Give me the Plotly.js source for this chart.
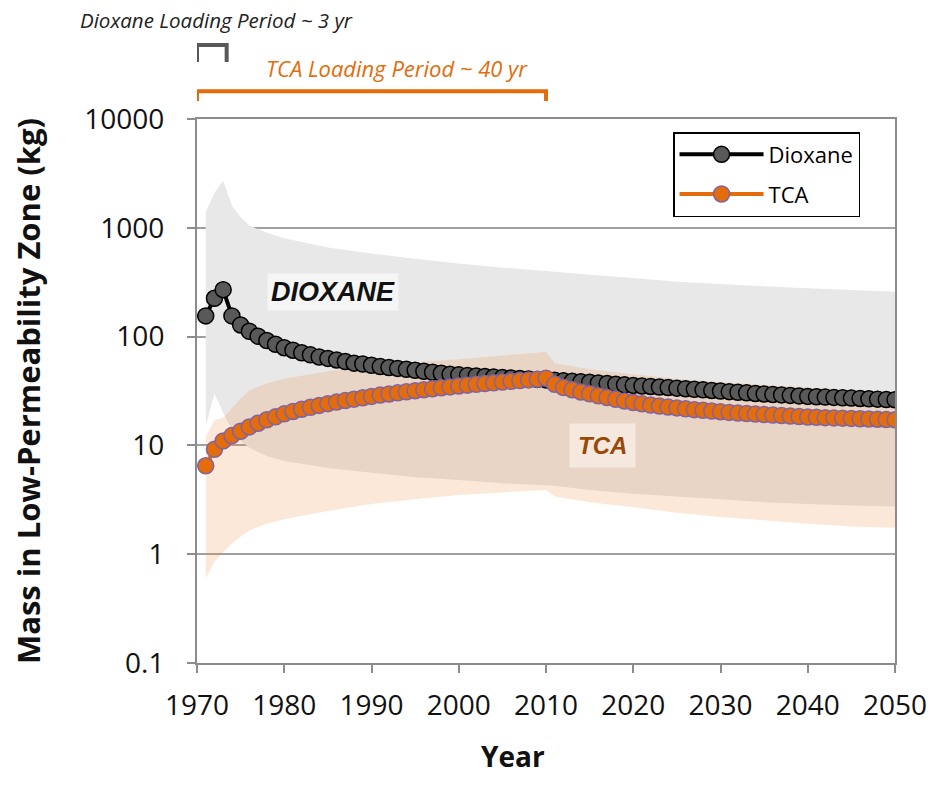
<!DOCTYPE html>
<html>
<head>
<meta charset="utf-8">
<script src="https://cdn.plot.ly/plotly-3.0.1.min.js"></script>
<style>html,body{margin:0;padding:0;background:#fff;}#chart{width:932px;height:792px;}</style>
</head>
<body>
<div id="chart"></div>
<script>
// ---- data ----
const years = [];
for (let y = 1971; y <= 2050; y++) years.push(y);

const dioxane = [
  155, 225, 270, 155, 128, 112, 101, 92, 85, 79,
  75, 71, 68, 65, 63, 61, 59, 57, 56, 54.5,
  53, 52, 51, 50, 49, 48, 47, 46, 45, 44.5,
  44, 43.5, 43, 42.5, 42, 41.6, 41.2, 40.8, 40.4, 40,
  39.6, 39.2, 38.8, 38.4, 38, 37.5, 37, 36.5, 36, 35.6,
  35.2, 34.8, 34.4, 34, 33.6, 33.2, 32.8, 32.4, 32, 31.6,
  31.2, 30.8, 30.4, 30, 29.7, 29.4, 29.1, 28.8, 28.5, 28.2,
  28, 27.8, 27.6, 27.4, 27.2, 27, 26.8, 26.6, 26.4, 26.3
];

const tca = [
  6.5, 9.2, 11, 12.3, 13.5, 14.8, 16, 17.2, 18.3, 19.5,
  20.5, 21.5, 22.4, 23.3, 24.2, 25, 25.8, 26.6, 27.4, 28.2,
  29, 29.7, 30.4, 31.1, 31.8, 32.5, 33.2, 33.9, 34.5, 35.2,
  35.8, 36.4, 37, 37.6, 38.2, 38.8, 39.4, 40, 40.6, 41.5,
  36.5, 34, 32.5, 31, 29.8, 28.6, 27.5, 26.5, 25.6, 24.8,
  24.1, 23.5, 23, 22.5, 22.1, 21.7, 21.3, 21, 20.7, 20.4,
  20.1, 19.8, 19.6, 19.4, 19.2, 19, 18.8, 18.6, 18.4, 18.2,
  18.1, 18, 17.9, 17.8, 17.7, 17.6, 17.5, 17.4, 17.3, 17.2
];

// uncertainty bands (vertices)
const bandYears = [1971, 1972, 1973, 1974, 1975, 1976, 1978, 1980, 1985, 1990, 1995, 2000, 2005, 2010, 2011, 2015, 2020, 2025, 2030, 2035, 2040, 2045, 2050];
const dioxaneUpper = [1400, 2100, 2700, 1600, 1250, 1050, 900, 800, 660, 580, 520, 470, 430, 400, 395, 370, 345, 320, 305, 290, 278, 268, 258];
const dioxaneLower = [15, 30, 20, 14, 11, 9.5, 8, 7.2, 6.2, 5.6, 5.1, 4.8, 4.5, 4.3, 4.25, 3.9, 3.6, 3.4, 3.2, 3.0, 2.9, 2.8, 2.75];
const tcaUpper = [12, 17, 18, 22, 27, 32, 37, 41, 48, 54, 58, 62, 67, 72, 57, 50, 45, 41, 38, 36, 34, 32, 30];
const tcaLower = [0.6, 0.85, 1.05, 1.25, 1.45, 1.65, 1.9, 2.1, 2.5, 2.9, 3.2, 3.5, 3.7, 3.9, 3.4, 3.0, 2.7, 2.4, 2.2, 2.05, 1.9, 1.8, 1.75];

const xTicks = [1970, 1980, 1990, 2000, 2010, 2020, 2030, 2040, 2050];
const yTickVals = [0.1, 1, 10, 100, 1000, 10000];
const yTickText = ['0.1', '1', '10', '100', '1000', '10000'];

// ---- traces ----
function band(upper, lower) {
  return {
    x: bandYears.concat(bandYears.slice().reverse()),
    y: upper.concat(lower.slice().reverse())
  };
}
const gBand = band(dioxaneUpper, dioxaneLower);
const oBand = band(tcaUpper, tcaLower);

const traces = [
  {x: gBand.x, y: gBand.y, type: 'scatter', mode: 'none', fill: 'toself',
   fillcolor: 'rgb(232,232,232)', showlegend: false, hoverinfo: 'skip'},
  {x: oBand.x, y: oBand.y, type: 'scatter', mode: 'none', fill: 'toself',
   fillcolor: 'rgba(240,140,60,0.2)', showlegend: false, hoverinfo: 'skip'},
  {x: years, y: dioxane, type: 'scatter', mode: 'lines+markers', name: 'Dioxane',
   legendgroup: 'a',
   line: {color: '#000000', width: 4},
   marker: {size: 16, color: '#595959', line: {color: '#000000', width: 1.5}}},
  {x: years, y: tca, type: 'scatter', mode: 'lines+markers', name: 'TCA',
   legendgroup: 'b',
   line: {color: '#E46C0A', width: 4},
   marker: {size: 16, color: '#E46C0A', line: {color: '#8064A2', width: 1.5}}}
];

const axisGray = '#8c8c8c';
const layout = {
  width: 932, height: 792,
  margin: {l: 197, r: 37, t: 119, b: 129},
  paper_bgcolor: '#ffffff', plot_bgcolor: '#ffffff',
  font: {family: 'Open Sans, sans-serif', color: '#000000'},
  showlegend: true,
  legend: {
    x: 0.682, y: 0.976, xanchor: 'left', yanchor: 'top',
    bgcolor: '#ffffff', bordercolor: '#000000', borderwidth: 1.5,
    font: {size: 22, color: '#000000'}, tracegroupgap: 8,
    itemwidth: 84
  },
  xaxis: {
    range: [1970, 2050], tickvals: xTicks, ticks: 'outside', ticklen: 8,
    tickwidth: 2, tickcolor: axisGray, showgrid: false, zeroline: false,
    showline: true, linecolor: axisGray, linewidth: 2, mirror: true,
    tickfont: {size: 28, color: '#111111'}, ticklabelstandoff: 8
  },
  yaxis: {
    type: 'log', range: [-1, 4], tickvals: yTickVals, ticktext: yTickText,
    ticks: 'outside', ticklen: 8, tickwidth: 2, tickcolor: axisGray,
    showgrid: true, gridcolor: '#a0a0a0', gridwidth: 2, zeroline: false,
    showline: true, linecolor: axisGray, linewidth: 2, mirror: true,
    tickfont: {size: 28, color: '#111111'}, ticklabelstandoff: 17,
    title: {text: 'Mass in Low-Permeability Zone (kg)', font: {size: 31, color: '#111111', weight: 'bold'}, standoff: 34}
  },
  shapes: [
    {type: 'path', xref: 'x', yref: 'paper',
     path: 'M 1970.0,1.105 L 1970.0,1.136 L 1973.4,1.136 L 1973.4,1.105',
     line: {color: '#595959', width: 4}},
    {type: 'path', xref: 'x', yref: 'paper',
     path: 'M 1970.0,1.033 L 1970.0,1.051 L 2010.0,1.051 L 2010.0,1.033',
     line: {color: '#E46C0A', width: 4}}
  ],
  annotations: [
    {text: 'Year', xref: 'paper', yref: 'paper', x: 0.453, y: -0.171,
     xanchor: 'center', yanchor: 'middle', showarrow: false,
     font: {size: 28, color: '#111111', weight: 'bold'}},
    {text: 'Dioxane Loading Period ~ 3 yr', xref: 'paper', yref: 'paper',
     x: -0.171, y: 1.182, xanchor: 'left', yanchor: 'middle', showarrow: false,
     font: {size: 20.5, color: '#222222', style: 'italic'}},
    {text: 'TCA Loading Period ~ 40 yr', xref: 'paper', yref: 'paper',
     x: 0.2865, y: 1.094, xanchor: 'center', yanchor: 'middle', showarrow: false,
     font: {size: 22, color: '#E46C0A', style: 'italic'}},
    {text: 'DIOXANE', xref: 'x', yref: 'y', x: 1985.6, y: Math.log10(259),
     showarrow: false, bgcolor: 'rgba(246,246,246,0.9)', borderpad: 3,
     font: {family: 'Liberation Sans, Arial, sans-serif', size: 27, color: '#111111', weight: 'bold', style: 'italic'}},
    {text: 'TCA', xref: 'x', yref: 'y', x: 2016.5, y: 1.0,
     showarrow: false, bgcolor: 'rgba(250,240,232,0.7)', borderpad: 8,
     font: {family: 'Liberation Sans, Arial, sans-serif', size: 24, color: '#984807', weight: 'bold', style: 'italic'}}
  ]
};

Plotly.newPlot('chart', traces, layout, {displayModeBar: false, staticPlot: true});
</script>
</body>
</html>
